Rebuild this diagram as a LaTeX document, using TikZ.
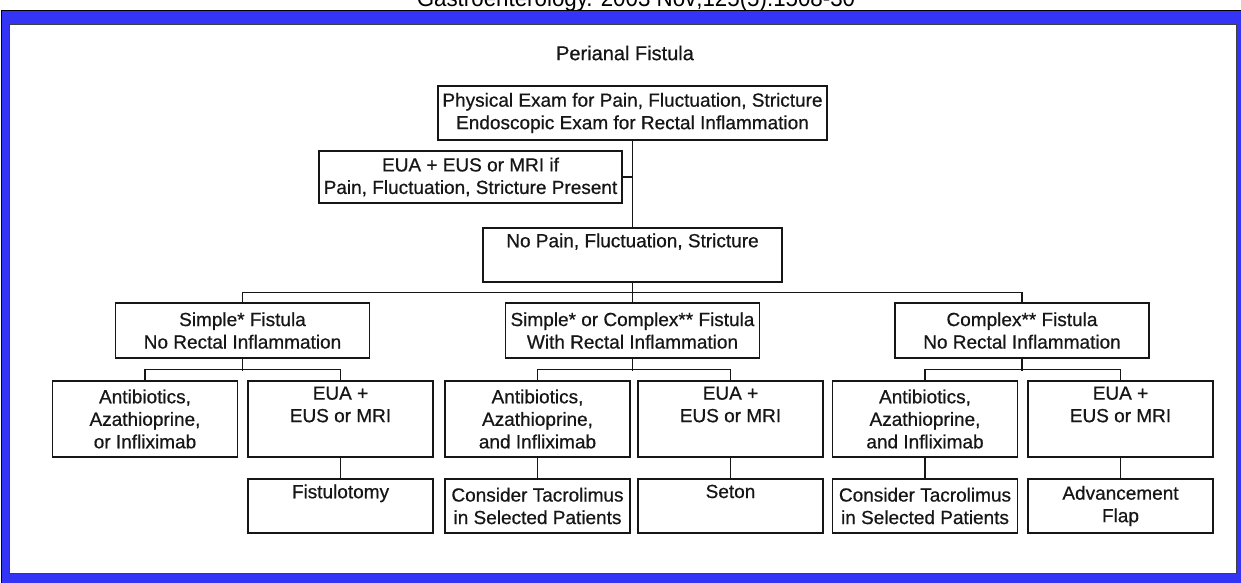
\documentclass[tikz,border=0pt]{standalone}
\usepackage{fontspec}
\setmainfont{Liberation Sans}[FakeBold=0.6]
\newfontfamily\capfont{Liberation Sans}
\definecolor{frameblue}{RGB}{52,52,246}
\definecolor{inkc}{RGB}{22,22,22}
\tikzset{
  txt/.style={inner sep=0pt, align=center, text=inkc, font=\fontsize{19}{22.5}\selectfont},
  box/.style={txt, draw=inkc, line width=1.5pt},
  topbox/.style={box, minimum width=389pt, minimum height=54pt},
  eusbox/.style={box, minimum width=303pt, minimum height=52pt},
  nobox/.style={box, minimum width=299pt, minimum height=54pt},
  fistbox/.style={box, minimum width=254pt, minimum height=55pt},
  treatbox/.style={box, minimum width=185pt, minimum height=76pt},
  endbox/.style={box, minimum width=185pt, minimum height=54pt},
  link/.style={draw=inkc, line width=1.5pt},
}
\begin{document}
\begin{tikzpicture}[x=1pt,y=-1pt]
\useasboundingbox (0,0) rectangle (1241,583);
\clip (0,0) rectangle (1241,583);
\fill[white] (0,0) rectangle (1241,583);
% caption (cut off at top, as in the reference)
\node[anchor=base, inner sep=0pt, font=\capfont\fontsize{24}{24}\selectfont, xscale=0.93] (cap) at (636,7) {Gastroenterology. 2003 Nov;125(5):1508-30};
% blue frame
\fill[frameblue, draw=black, line width=1.5pt] (1.5,10.5) rectangle (1250,600);
\fill[white, draw=black!75, line width=1.5pt] (9.5,24.5) rectangle (1236.5,573.5);
% title
\node[txt, font=\fontsize{20}{24}\selectfont] (title) at (625,53) {Perianal Fistula};
% boxes
\node[topbox] (b1) at (632.5,113) {Physical Exam for Pain, Fluctuation, Stricture\\Endoscopic Exam for Rectal Inflammation};
\node[eusbox] (b2) at (470.5,177) {EUA + EUS or MRI if\\Pain, Fluctuation, Stricture Present};
\node[nobox] (b3) at (632.5,255) {No Pain, Fluctuation, Stricture\\\strut};
\node[fistbox] (s1) at (242.5,330.5) {Simple* Fistula\\No Rectal Inflammation};
\node[fistbox] (s2) at (632.5,330.5) {Simple* or Complex** Fistula\\With Rectal Inflammation};
\node[fistbox] (s3) at (1022,330.5) {Complex** Fistula\\No Rectal Inflammation};
\node[treatbox] (a1) at (145,419) {Antibiotics,\\Azathioprine,\\or Infliximab};
\node[treatbox] (e1) at (340.5,419) {EUA +\\EUS or MRI\\\strut};
\node[treatbox] (a2) at (537.5,419) {Antibiotics,\\Azathioprine,\\and Infliximab};
\node[treatbox] (e2) at (730.5,419) {EUA +\\EUS or MRI\\\strut};
\node[treatbox] (a3) at (925,419) {Antibiotics,\\Azathioprine,\\and Infliximab};
\node[treatbox] (e3) at (1120.5,419) {EUA +\\EUS or MRI\\\strut};
\node[endbox] (f1) at (340.5,506) {Fistulotomy\\\strut};
\node[endbox] (t2) at (537.5,506) {Consider Tacrolimus\\in Selected Patients};
\node[endbox] (se) at (730.5,506) {Seton\\\strut};
\node[endbox] (t3) at (925,506) {Consider Tacrolimus\\in Selected Patients};
\node[endbox] (ad) at (1120.5,506) {Advancement\\Flap};
% connectors
\draw[link] (b1.south) -- (b3.north);
\draw[link] (b2.east) -- (b2.east -| b1.south);
\draw[link] (b3.south) -- (s2.north);
\draw[link] (s1.north) -- ++(0,-10) -| (s3.north);
\foreach \p/\l/\r in {s1/a1/e1, s2/a2/e2, s3/a3/e3}{
  \draw[link] (\p.south) -- ++(0,12);
  \draw[link] (\l.north) -- ++(0,-11) -| (\r.north);
}
\draw[link] (e1.south) -- (f1.north);
\draw[link] (a2.south) -- (t2.north);
\draw[link] (e2.south) -- (se.north);
\draw[link] (a3.south) -- (t3.north);
\draw[link] (e3.south) -- (ad.north);
\end{tikzpicture}
\end{document}
